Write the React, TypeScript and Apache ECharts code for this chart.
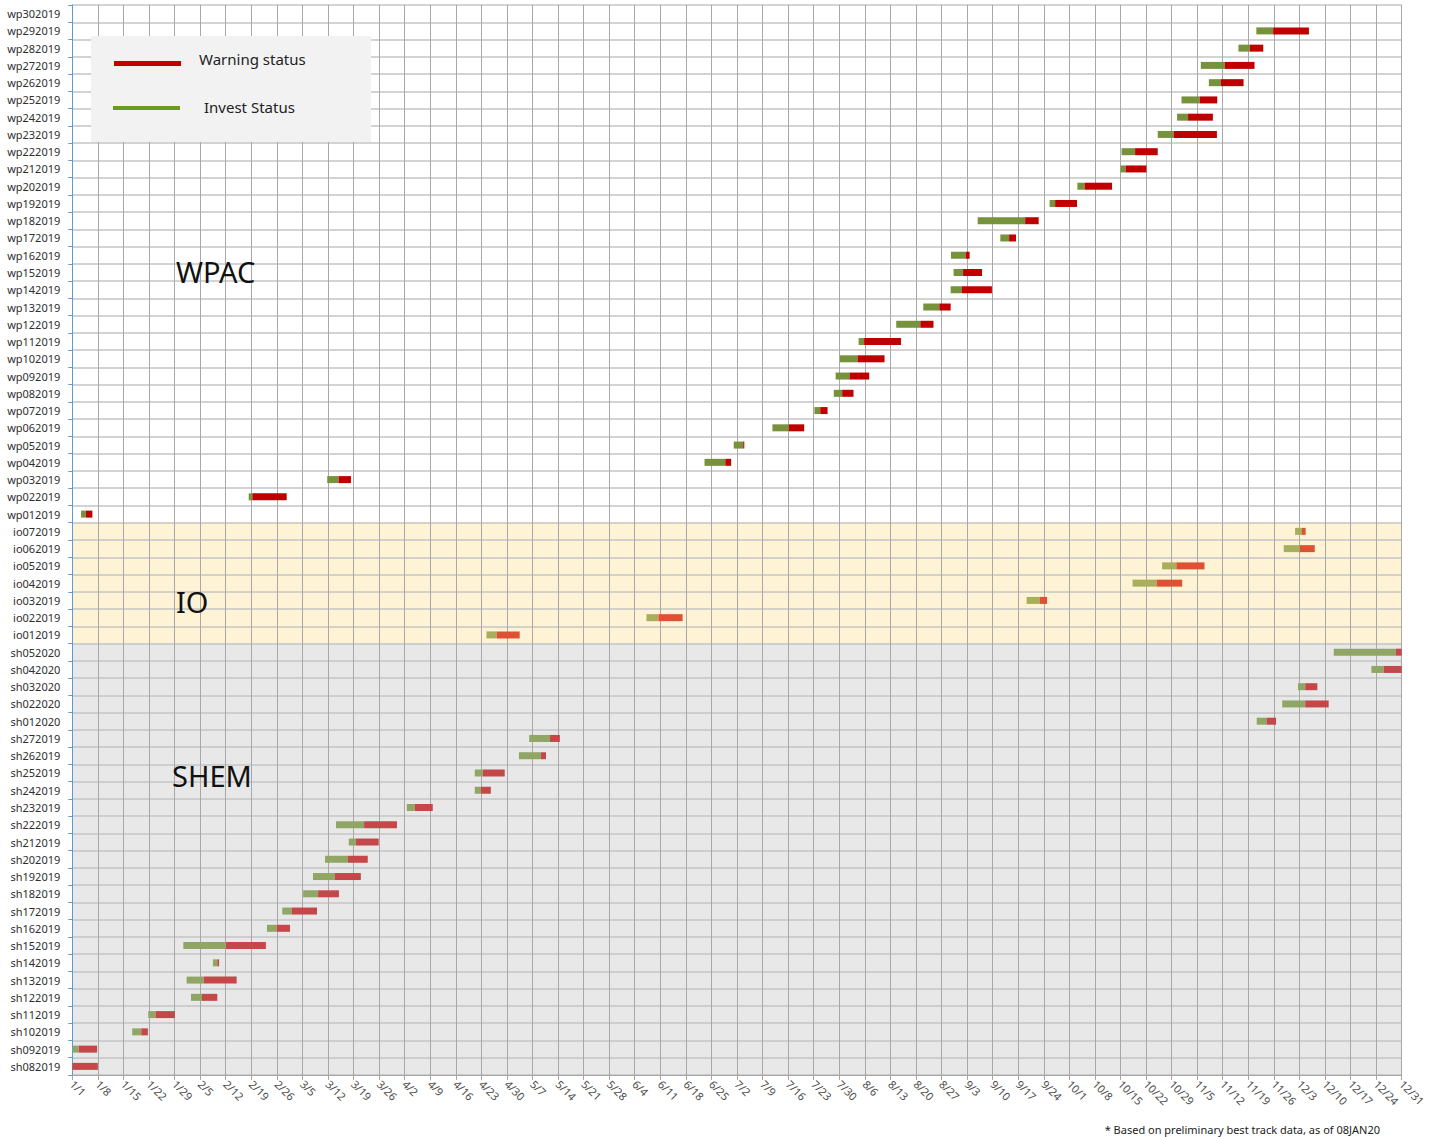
import React, { useEffect, useRef } from "react";
import * as echarts from "echarts";

// ---- Data (day of year 2019, 0 = 1/1) ----
const wpNames = [
  "wp302019", "wp292019", "wp282019", "wp272019", "wp262019", "wp252019", "wp242019", "wp232019",
  "wp222019", "wp212019", "wp202019", "wp192019", "wp182019", "wp172019", "wp162019", "wp152019",
  "wp142019", "wp132019", "wp122019", "wp112019", "wp102019", "wp092019", "wp082019", "wp072019",
  "wp062019", "wp052019", "wp042019", "wp032019", "wp022019", "wp012019",
];
const wpInvest = [null, 324.2, 319.3, 309.0, 311.2, 303.7, 302.5, 297.2, 287.3, 287.0, 275.2, 267.6, 247.9, 254.1, 240.6, 241.3, 240.5, 233.0, 225.6, 215.3, 210.2, 209.0, 208.5, 203.2, 191.7, 181.1, 173.1, 69.8, 48.3, 2.4];
const wpWarn = [null, 328.8, 322.4, 315.6, 314.4, 308.7, 305.5, 301.6, 291.0, 288.4, 277.2, 269.1, 260.9, 256.5, 244.6, 243.9, 243.6, 237.4, 232.2, 216.8, 215.0, 212.8, 210.8, 204.8, 196.2, 183.7, 178.8, 72.9, 49.3, 3.7];
const wpEnd = [null, 338.6, 326.1, 323.7, 320.7, 313.5, 312.3, 313.4, 297.2, 294.1, 284.7, 275.1, 264.6, 258.4, 245.7, 249.1, 251.8, 240.5, 235.8, 226.9, 222.4, 218.2, 213.9, 206.8, 200.4, 184.0, 180.4, 76.3, 58.7, 5.5];

const ioNames = ["io072019", "io062019", "io052019", "io042019", "io032019", "io022019", "io012019"];
const ioInvest = [334.8, 331.7, 298.4, 290.3, 261.3, 157.2, 113.4];
const ioWarn = [336.7, 336.1, 302.3, 296.9, 264.9, 160.5, 116.2];
const ioEnd = [337.7, 340.2, 310.0, 303.9, 266.9, 167.1, 122.5];

const shNames = [
  "sh052020", "sh042020", "sh032020", "sh022020", "sh012020",
  "sh272019", "sh262019", "sh252019", "sh242019", "sh232019", "sh222019", "sh212019", "sh202019",
  "sh192019", "sh182019", "sh172019", "sh162019", "sh152019", "sh142019", "sh132019", "sh122019",
  "sh112019", "sh102019", "sh092019", "sh082019",
];
const shInvest = [345.4, 355.7, 335.6, 331.3, 324.3, 125.1, 122.3, 110.2, 110.2, 91.6, 72.2, 75.7, 69.2, 65.9, 63.2, 57.5, 53.3, 30.4, 38.5, 31.3, 32.5, 20.8, 16.4, 0.1, 0];
const shWarn = [362.4, 359.1, 337.6, 337.6, 327.0, 130.8, 128.3, 112.4, 111.9, 93.8, 79.9, 77.7, 75.5, 71.9, 67.3, 60.1, 56.0, 42.1, 39.7, 36.0, 35.5, 22.8, 18.9, 1.75, 0];
const shEnd = [364, 364, 340.9, 344.0, 329.6, 133.5, 129.7, 118.4, 114.6, 98.7, 88.9, 83.9, 80.9, 79.0, 73.0, 67.0, 59.6, 53.0, 40.2, 45.0, 39.7, 28.1, 20.7, 6.8, 7.0];

const basinLabels = ["WPAC", "IO", "SHEM"];
const legendLabels = ["Warning status", "Invest Status"];
const footnote = "* Based on preliminary best track data, as of 08JAN20";

// ---- styles per basin ----
const basinStyle: Record<string, { bg: string; invest: string; warn: string }> = {
  wp: { bg: "#FFFFFF", invest: "#76923C", warn: "#C00000" },
  io: { bg: "#FFF3D6", invest: "#A8AE5C", warn: "#DD5235" },
  sh: { bg: "#E8E8E8", invest: "#90A665", warn: "#C4474A" },
};

const dayLabel = (v: number) => {
  const d = new Date(Date.UTC(2019, 0, 1 + Math.round(v)));
  return `${d.getUTCMonth() + 1}/${d.getUTCDate()}`;
};

export default function App() {
  const ref = useRef<HTMLDivElement>(null);

  useEffect(() => {
    if (!ref.current) return;
    const chart = echarts.init(ref.current, undefined, { renderer: "svg" });

    const rows: { name: string; basin: string; inv: number | null; warn: number | null; end: number | null }[] = [];
    wpNames.forEach((n, i) => rows.push({ name: n, basin: "wp", inv: wpInvest[i], warn: wpWarn[i], end: wpEnd[i] }));
    ioNames.forEach((n, i) => rows.push({ name: n, basin: "io", inv: ioInvest[i], warn: ioWarn[i], end: ioEnd[i] }));
    shNames.forEach((n, i) => rows.push({ name: n, basin: "sh", inv: shInvest[i], warn: shWarn[i], end: shEnd[i] }));

    const categories = rows.map((r) => r.name);
    const bgColors = rows.map((r) => basinStyle[r.basin].bg);

    const baseData = rows.map((r) => (r.inv == null ? "-" : r.inv));
    const investData = rows.map((r) =>
      r.inv == null ? "-" : { value: (r.warn as number) - r.inv, itemStyle: { color: basinStyle[r.basin].invest } }
    );
    const warnData = rows.map((r) =>
      r.inv == null ? "-" : { value: (r.end as number) - (r.warn as number), itemStyle: { color: basinStyle[r.basin].warn } }
    );

    const font = "'Noto Sans', 'Open Sans', sans-serif";

    chart.setOption({
      animation: false,
      backgroundColor: "#FFFFFF",
      grid: { left: 72.3, right: 38.3, top: 5, bottom: 62, containLabel: false },
      xAxis: {
        type: "value",
        min: 0,
        max: 364,
        interval: 7,
        axisLine: { show: true, lineStyle: { color: "#A6A6A6", width: 1 } },
        axisTick: { show: true, length: 5, lineStyle: { color: "#A6A6A6" } },
        splitLine: { show: true, lineStyle: { color: "#A8A8A8", width: 1 } },
        axisLabel: {
          rotate: -45,
          margin: 7,
          fontSize: 11,
          fontFamily: font,
          color: "#4D4D4D",
          showMinLabel: true,
          showMaxLabel: true,
          formatter: (v: number) => dayLabel(v),
        },
      },
      yAxis: {
        type: "category",
        inverse: true,
        data: categories,
        axisLine: { show: true, lineStyle: { color: "#5B9BD5", width: 1 } },
        axisTick: { show: true, length: 4, lineStyle: { color: "#5B9BD5" } },
        axisLabel: { fontSize: 11, fontFamily: font, color: "#2E2E2E", margin: 12, interval: 0 },
        splitLine: { show: true, interval: 0, lineStyle: { color: "#C4C4C4", width: 1.5 } },
        splitArea: { show: true, interval: 0, areaStyle: { color: bgColors } },
      },
      series: [
        {
          type: "bar",
          stack: "total",
          data: baseData,
          barWidth: 7,
          itemStyle: { color: "rgba(0,0,0,0)" },
          silent: true,
        },
        {
          type: "bar",
          stack: "total",
          data: investData,
          barWidth: 7,
          silent: true,
        },
        {
          type: "bar",
          stack: "total",
          data: warnData,
          barWidth: 7,
          silent: true,
        },
      ],
      graphic: [
        { type: "rect", shape: { x: 91, y: 36, width: 280, height: 106 }, style: { fill: "#F2F2F2" }, z: 100 },
        { type: "rect", shape: { x: 114, y: 61, width: 67, height: 5 }, style: { fill: "#C00000" }, z: 101 },
        { type: "rect", shape: { x: 113, y: 106, width: 67, height: 4 }, style: { fill: "#6A9A1E" }, z: 101 },
        {
          type: "text", x: 199, y: 59, z: 101,
          style: { text: legendLabels[0], fontSize: 15, fontFamily: font, fill: "#222222", verticalAlign: "middle" },
        },
        {
          type: "text", x: 204, y: 107, z: 101,
          style: { text: legendLabels[1], fontSize: 15, fontFamily: font, fill: "#222222", verticalAlign: "middle" },
        },
        {
          type: "text", x: 176, y: 271, z: 101,
          style: { text: basinLabels[0], fontSize: 29, fontFamily: font, fill: "#111111", verticalAlign: "middle" },
        },
        {
          type: "text", x: 176, y: 601, z: 101,
          style: { text: basinLabels[1], fontSize: 29, fontFamily: font, fill: "#111111", verticalAlign: "middle" },
        },
        {
          type: "text", x: 172, y: 775, z: 101,
          style: { text: basinLabels[2], fontSize: 29, fontFamily: font, fill: "#111111", verticalAlign: "middle" },
        },
        {
          type: "text", x: 1380, y: 1129, z: 101,
          style: { text: footnote, fontSize: 11, fontFamily: font, fill: "#222222", align: "right", verticalAlign: "middle" },
        },
      ],
    });

    return () => chart.dispose();
  }, []);

  return (
    <div
      ref={ref}
      style={{ position: "absolute", left: 0, top: 0, width: 1440, height: 1137 }}
    />
  );
}
